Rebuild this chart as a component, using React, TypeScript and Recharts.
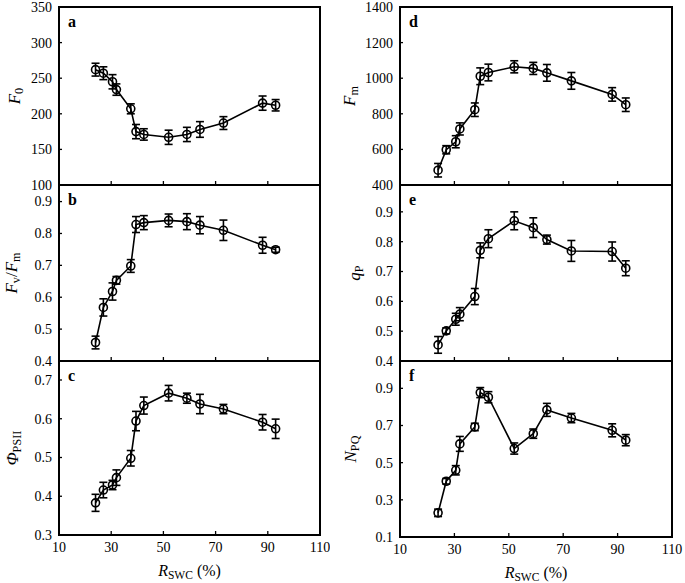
import React from 'react';
import { LineChart, Line, XAxis, YAxis, ErrorBar, ReferenceArea } from 'recharts';

const SERIF = 'Liberation Serif, Times New Roman, Times, serif';

// relative soil water content (%)
const rswc = [24, 27, 30.5, 32, 37.5, 39.5, 42.5, 52, 59, 64, 73, 88, 93];

const f0 = [262, 257, 245, 234, 207, 175, 171, 167, 171, 178, 187, 215, 212];
const f0Err = [9, 9, 10, 8, 7, 10, 8, 10, 10, 11, 9, 10, 8];

const fvfm = [0.458, 0.568, 0.618, 0.653, 0.698, 0.828, 0.834, 0.841, 0.837, 0.826, 0.81, 0.763, 0.749];
const fvfmErr = [0.02, 0.027, 0.027, 0.012, 0.02, 0.025, 0.022, 0.02, 0.025, 0.027, 0.032, 0.025, 0.008];

const phiPS2 = [0.383, 0.416, 0.429, 0.448, 0.498, 0.594, 0.634, 0.666, 0.653, 0.638, 0.625, 0.591, 0.574];
const phiPS2Err = [0.022, 0.02, 0.012, 0.02, 0.02, 0.025, 0.022, 0.02, 0.013, 0.025, 0.012, 0.02, 0.025];

const fm = [483, 598, 643, 715, 823, 1011, 1032, 1064, 1055, 1030, 985, 909, 851];
const fmErr = [38, 23, 34, 34, 38, 47, 47, 34, 34, 47, 47, 38, 38];

const qp = [0.454, 0.501, 0.54, 0.557, 0.616, 0.771, 0.81, 0.87, 0.847, 0.807, 0.769, 0.767, 0.711];
const qpErr = [0.028, 0.01, 0.02, 0.022, 0.027, 0.025, 0.03, 0.03, 0.033, 0.015, 0.035, 0.032, 0.025];

const npq = [0.23, 0.4, 0.459, 0.601, 0.692, 0.877, 0.852, 0.576, 0.656, 0.784, 0.74, 0.674, 0.621];
const npqErr = [0.02, 0.015, 0.025, 0.04, 0.02, 0.027, 0.03, 0.03, 0.025, 0.035, 0.025, 0.035, 0.03];

const xTicks = [10, 30, 50, 70, 90, 110];
const f0Ticks = [100, 150, 200, 250, 300, 350];
const fvfmTicks = [0.4, 0.5, 0.6, 0.7, 0.8, 0.9];
const phiTicks = [0.3, 0.4, 0.5, 0.6, 0.7];
const fmTicks = [400, 600, 800, 1000, 1200, 1400];
const qpTicks = [0.4, 0.5, 0.6, 0.7, 0.8, 0.9];
const npqTicks = [0.1, 0.3, 0.5, 0.7, 0.9];

type Part = { t: string; it?: boolean; sub?: boolean };

function Title({ cx, cy, parts, size, rotate }: { cx: number; cy: number; parts: Part[]; size: number; rotate?: boolean }) {
  let prevSub = false;
  return (
    <text
      x={cx}
      y={cy}
      textAnchor="middle"
      dominantBaseline="central"
      style={{ fontFamily: SERIF }}
      fontSize={size}
      fill="#000"
      transform={rotate ? `rotate(-90 ${cx} ${cy})` : undefined}
    >
      {parts.map((p, i) => {
        const sub = !!p.sub;
        const dy = sub === prevSub ? 0 : sub ? size * 0.3 : -size * 0.3;
        prevSub = sub;
        return (
          <tspan key={i} dy={dy} fontStyle={p.it ? 'italic' : 'normal'} fontSize={sub ? size * 0.72 : size}>
            {p.t}
          </tspan>
        );
      })}
    </text>
  );
}

const xTitle: Part[] = [{ t: 'R', it: true }, { t: 'SWC', sub: true }, { t: ' (%)' }];

type Panel = {
  letter: string;
  values: number[];
  errors: number[];
  domain: [number, number];
  ticks: number[];
  decimals: number;
  title: Part[];
  titleDx: number;
  top: number;
  bottom: number;
  last: boolean;
};

const makeData = (values: number[], errors: number[]) =>
  rswc.map((x, i) => ({ x, y: values[i], err: errors[i] }));

function PanelChart({ p, left, width, axisW, rightM }: { p: Panel; left: number; width: number; axisW: number; rightM: number }) {
  const data = makeData(p.values, p.errors);
  const xh = p.last ? 583 - p.bottom : 12;
  return (
    <div style={{ position: 'absolute', left, top: 0 }}>
      <LineChart width={width} height={p.bottom + xh} data={data} margin={{ top: p.top, right: rightM, bottom: 0, left: 0 }}>
        <XAxis
          dataKey="x"
          type="number"
          domain={[10, 110]}
          ticks={xTicks}
          height={xh}
          axisLine={false}
          tickLine={false}
          tickSize={0}
          tickMargin={0}
          interval={0}
          tick={(t: any) => (
            <g>
              <line x1={t.x} y1={t.y} x2={t.x} y2={t.y - 4} stroke="#000" strokeWidth={1.3} />
              {p.last && (
                <text x={t.x} y={t.y + 12} dy="0.35em" textAnchor="middle" style={{ fontFamily: SERIF }} fontSize={14} fill="#000">
                  {t.payload.value}
                </text>
              )}
            </g>
          )}
          label={
            p.last
              ? {
                  content: (l: any) => (
                    <Title cx={l.viewBox.x + l.viewBox.width / 2} cy={l.viewBox.y + 35} parts={xTitle} size={16} />
                  ),
                }
              : undefined
          }
        />
        <YAxis
          type="number"
          domain={p.domain}
          ticks={p.ticks}
          width={axisW}
          axisLine={false}
          tickLine={false}
          tickSize={0}
          tickMargin={0}
          interval={0}
          allowDataOverflow
          tick={(t: any) => (
            <g>
              <line x1={t.x} y1={t.y} x2={t.x + 3} y2={t.y} stroke="#000" strokeWidth={1.3} />
              <text x={t.x - 7} y={t.y} dy="0.35em" textAnchor="end" style={{ fontFamily: SERIF }} fontSize={14} fill="#000">
                {Number(t.payload.value).toFixed(p.decimals)}
              </text>
            </g>
          )}
          label={{
            content: (l: any) => (
              <Title
                cx={l.viewBox.x + l.viewBox.width + p.titleDx}
                cy={l.viewBox.y + l.viewBox.height / 2}
                parts={p.title}
                size={17}
                rotate
              />
            ),
          }}
        />
        <ReferenceArea
          x1={10}
          x2={110}
          y1={p.domain[0]}
          y2={p.domain[1]}
          fill="none"
          stroke="#000"
          strokeWidth={2}
          label={{ value: p.letter, position: 'insideTopLeft', offset: 9, style: { fontFamily: SERIF }, fontSize: 16, fontWeight: 'bold', fill: '#000' }}
        />
        <Line
          dataKey="y"
          stroke="#000"
          strokeWidth={1.6}
          isAnimationActive={false}
          dot={{ r: 4, fill: 'none', stroke: '#000', strokeWidth: 1.6 }}
        >
          <ErrorBar dataKey="err" direction="y" width={4} stroke="#000" strokeWidth={1.6} />
        </Line>
      </LineChart>
    </div>
  );
}

const leftPanels: Panel[] = [
  { letter: 'a', values: f0, errors: f0Err, domain: [100, 350], ticks: f0Ticks, decimals: 0, title: [{ t: 'F', it: true }, { t: '0', sub: true }], titleDx: -45, top: 7, bottom: 185, last: false },
  { letter: 'b', values: fvfm, errors: fvfmErr, domain: [0.4, 0.952], ticks: fvfmTicks, decimals: 1, title: [{ t: 'F', it: true }, { t: 'v', sub: true }, { t: '/' }, { t: 'F', it: true }, { t: 'm', sub: true }], titleDx: -48, top: 185, bottom: 361, last: false },
  { letter: 'c', values: phiPS2, errors: phiPS2Err, domain: [0.3, 0.749], ticks: phiTicks, decimals: 1, title: [{ t: 'Φ', it: true }, { t: 'PSII', sub: true }], titleDx: -47, top: 361, bottom: 535, last: true },
];

const rightPanels: Panel[] = [
  { letter: 'd', values: fm, errors: fmErr, domain: [400, 1400], ticks: fmTicks, decimals: 0, title: [{ t: 'F', it: true }, { t: 'm', sub: true }], titleDx: -51, top: 7, bottom: 185, last: false },
  { letter: 'e', values: qp, errors: qpErr, domain: [0.4, 0.99], ticks: qpTicks, decimals: 1, title: [{ t: 'q', it: true }, { t: 'P', sub: true }], titleDx: -46, top: 185, bottom: 361, last: false },
  { letter: 'f', values: npq, errors: npqErr, domain: [0.1, 1.047], ticks: npqTicks, decimals: 1, title: [{ t: 'N', it: true }, { t: 'PQ', sub: true }], titleDx: -50, top: 361, bottom: 537, last: true },
];

export default function App() {
  return (
    <div style={{ position: 'absolute', left: 0, top: 0, width: 685, height: 583, background: '#fff' }}>
      {leftPanels.map((p) => (
        <PanelChart key={p.letter} p={p} left={0} width={330} axisW={59} rightM={10} />
      ))}
      {rightPanels.map((p) => (
        <PanelChart key={p.letter} p={p} left={340} width={345} axisW={60} rightM={13} />
      ))}
    </div>
  );
}
